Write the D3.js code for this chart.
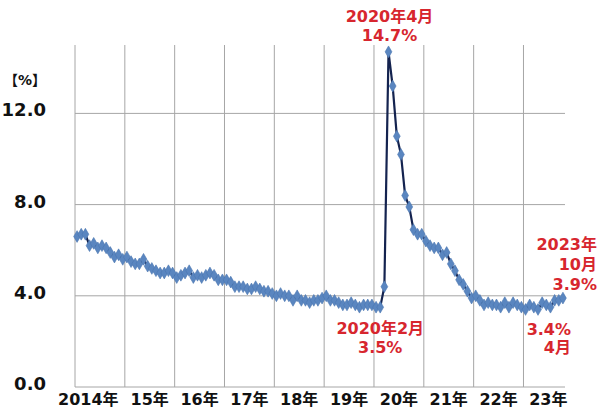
<!DOCTYPE html>
<html>
<head>
<meta charset="utf-8">
<script src="https://cdn.jsdelivr.net/npm/d3@7"></script>
<style>
	body { margin: 0; background: #fff; }
	text { font-family: "DejaVu Sans", "Noto Sans CJK JP", sans-serif; font-weight: bold; }
</style>
</head>
<body>
<div id="chart"></div>
<script>
// 米国失業率（月次, %）2014年1月〜2023年10月
var rate2014 = [6.6, 6.7, 6.7, 6.2, 6.3, 6.1, 6.2, 6.1, 5.9, 5.7, 5.8, 5.6]
var rate2015 = [5.7, 5.5, 5.4, 5.4, 5.6, 5.3, 5.2, 5.1, 5.0, 5.0, 5.1, 5.0]
var rate2016 = [4.8, 4.9, 5.0, 5.1, 4.8, 4.9, 4.8, 4.9, 5.0, 4.9, 4.7, 4.7]
var rate2017 = [4.7, 4.6, 4.4, 4.4, 4.4, 4.3, 4.3, 4.4, 4.3, 4.2, 4.2, 4.1]
var rate2018 = [4.0, 4.1, 4.0, 4.0, 3.8, 4.0, 3.8, 3.8, 3.7, 3.8, 3.8, 3.9]
var rate2019 = [4.0, 3.8, 3.8, 3.7, 3.6, 3.6, 3.7, 3.6, 3.5, 3.6, 3.6, 3.6]
var rate2020 = [3.5, 3.5, 4.4, 14.7, 13.2, 11.0, 10.2, 8.4, 7.9, 6.9, 6.7, 6.7]
var rate2021 = [6.4, 6.2, 6.1, 6.1, 5.8, 5.9, 5.4, 5.1, 4.7, 4.5, 4.2, 3.9]
var rate2022 = [4.0, 3.8, 3.6, 3.7, 3.6, 3.6, 3.5, 3.7, 3.5, 3.7, 3.6, 3.5]
var rate2023 = [3.4, 3.6, 3.5, 3.4, 3.7, 3.6, 3.5, 3.8, 3.8, 3.9]

var yearLabels = ["2014年", "15年", "16年", "17年", "18年", "19年", "20年", "21年", "22年", "23年"]
var yTicks = [0, 4, 8, 12]

var rates = [].concat(rate2014, rate2015, rate2016, rate2017, rate2018,
	rate2019, rate2020, rate2021, rate2022, rate2023)

drawchart()

function drawchart() {
	var svg = d3.select("#chart")
		.append("svg")
		.attr("width", 600)
		.attr("height", 410)

	const left = 75, right = 565, top = 45, bottom = 387

	const xScale = d3.scaleLinear()
		.domain([0, rates.length])
		.range([left, right])

	const yScale = d3.scaleLinear()
		.domain([0, 15])
		.range([bottom, top])

	// 縦のグリッド（各年1月）
	svg.append("g")
		.selectAll("line")
		.data(yearLabels)
		.enter()
		.append("line")
		.attr("x1", (d, i) => xScale(i * 12))
		.attr("x2", (d, i) => xScale(i * 12))
		.attr("y1", yScale(15))
		.attr("y2", yScale(0))
		.style("stroke", "#a6a6a6")
		.style("stroke-width", 1)

	// 横のグリッド
	svg.append("g")
		.selectAll("line")
		.data(yTicks)
		.enter()
		.append("line")
		.attr("x1", left)
		.attr("x2", right)
		.attr("y1", d => yScale(d))
		.attr("y2", d => yScale(d))
		.style("stroke", "#a6a6a6")
		.style("stroke-width", 1)

	// y軸ラベル
	svg.append("g")
		.selectAll("text")
		.data(yTicks)
		.enter()
		.append("text")
		.attr("x", 46)
		.attr("y", d => yScale(d) + 3)
		.style("text-anchor", "end")
		.style("font-size", "18px")
		.style("fill", "#111")
		.text(d => d.toFixed(1))

	svg.append("text")
		.attr("x", 25)
		.attr("y", 85)
		.style("text-anchor", "middle")
		.style("font-size", "14px")
		.style("fill", "#111")
		.text("【%】")

	// x軸ラベル
	svg.append("g")
		.selectAll("text")
		.data(yearLabels)
		.enter()
		.append("text")
		.attr("x", (d, i) => i == 0 ? xScale(0) - 17 : xScale(i * 12 + 6))
		.attr("y", 405)
		.style("text-anchor", (d, i) => i == 0 ? "start" : "middle")
		.style("font-size", "16px")
		.style("fill", "#111")
		.text(d => d)

	// 折れ線
	const line = d3.line()
		.x((d, i) => xScale(i + 0.5))
		.y(d => yScale(d))

	svg.append("path")
		.datum(rates)
		.attr("d", line)
		.attr("fill", "none")
		.attr("stroke", "#14234f")
		.attr("stroke-width", 2.2)

	const diamond = d3.symbol().type(d3.symbolDiamond).size(40)

	svg.append("g")
		.selectAll("path")
		.data(rates)
		.enter()
		.append("path")
		.attr("d", diamond)
		.attr("transform", (d, i) => `translate(${xScale(i + 0.5)},${yScale(d)})`)
		.style("fill", "#5a86c0")
		.style("stroke", "#4a76b0")
		.style("stroke-width", 0.6)

	// 注記
	var notes = [
		{ idx: 75, lines: ["2020年4月", "14.7%"], dx: 1, ys: [22, 41], anchor: "middle" },
		{ idx: 73, lines: ["2020年2月", "3.5%"], dx: 0, ys: [334, 353], anchor: "middle" },
		{ idx: 117, lines: ["2023年", "10月", "3.9%"], dx: 34, ys: [250, 270, 290], anchor: "end" },
		{ idx: 111, lines: ["3.4%", "4月"], dx: 33, ys: [335, 353], anchor: "end" }
	]

	notes.forEach(function(n) {
		n.lines.forEach(function(t, j) {
			svg.append("text")
				.attr("x", xScale(n.idx + 0.5) + n.dx)
				.attr("y", n.ys[j])
				.style("text-anchor", n.anchor)
				.style("font-size", "16px")
				.style("fill", "#d7262e")
				.text(t)
		})
	})
}
</script>
</body>
</html>
